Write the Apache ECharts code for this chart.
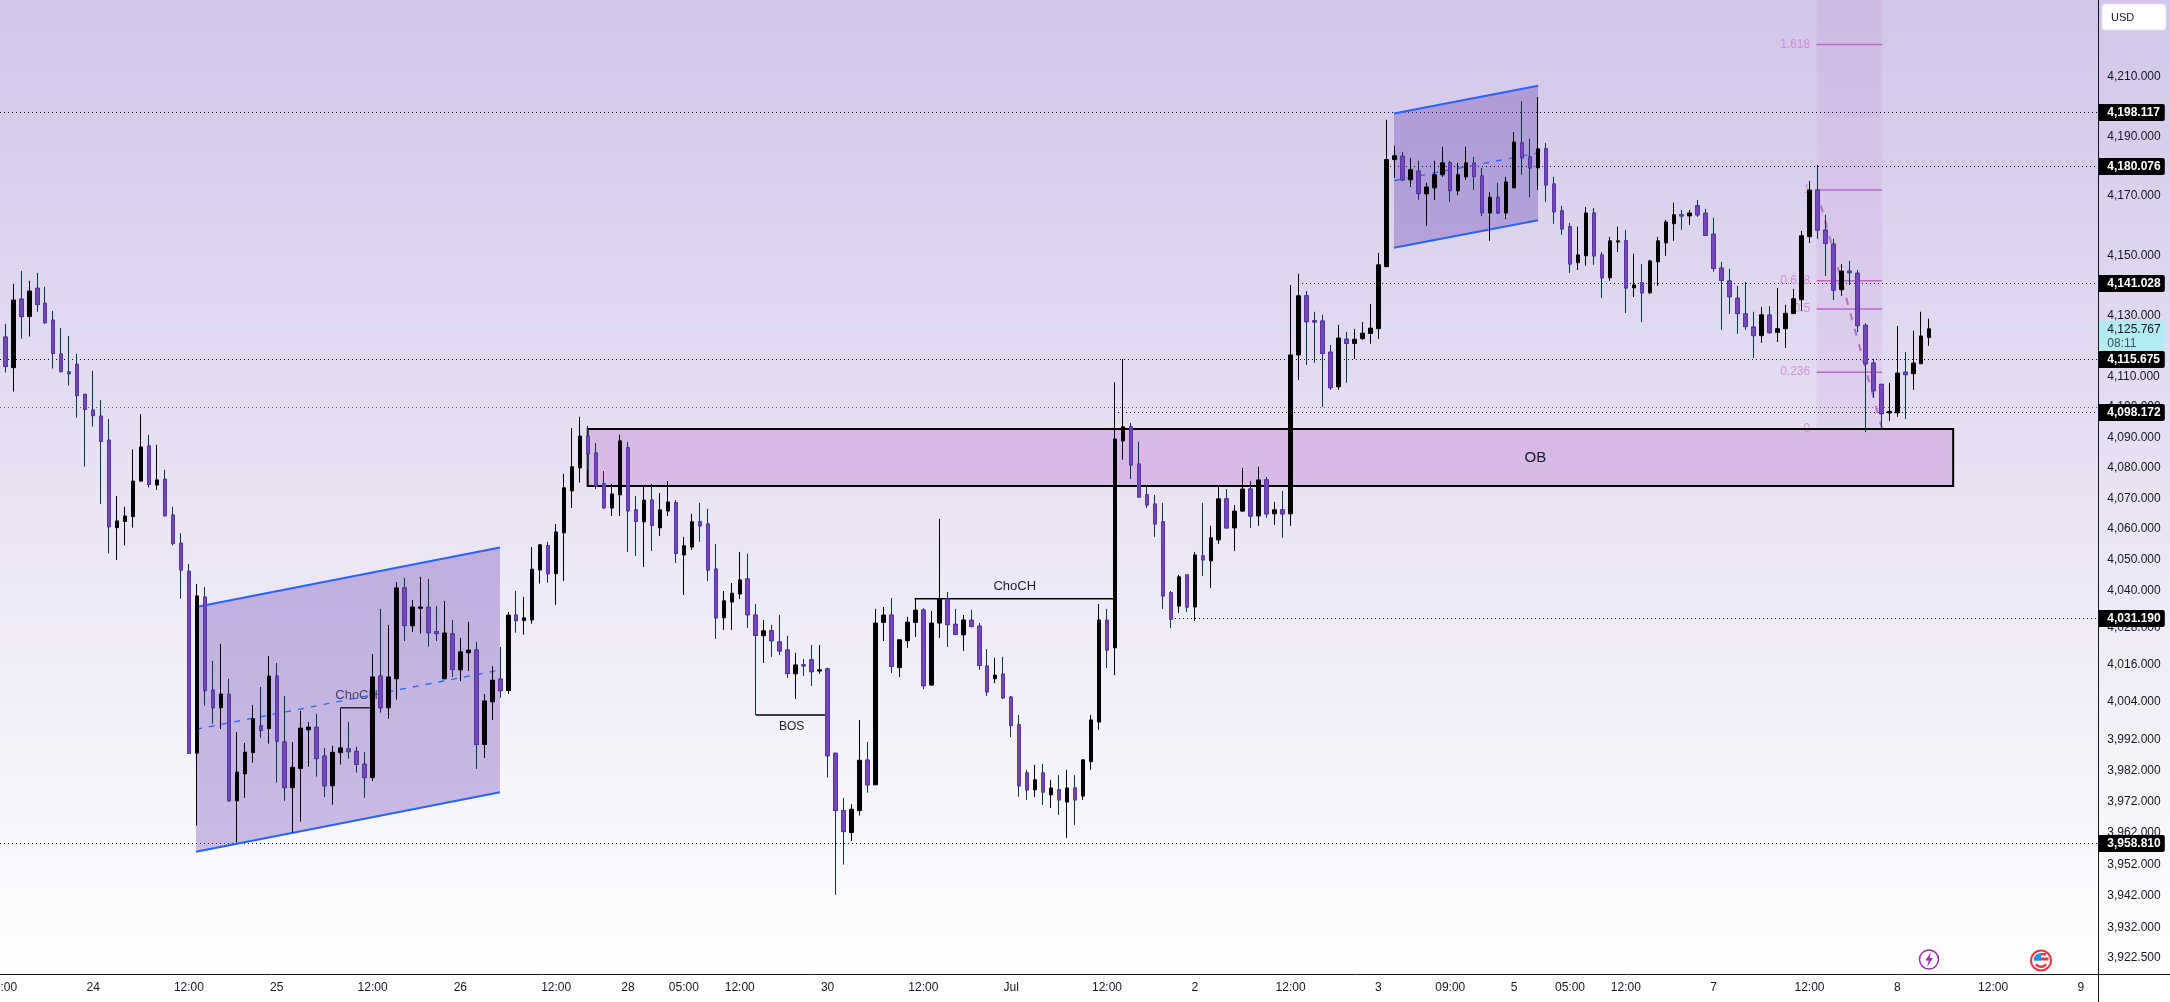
<!DOCTYPE html>
<html>
<head>
<meta charset="utf-8">
<title>XAU/USD 1H</title>
<style>html,body{margin:0;padding:0;background:#fff}#chart{width:2170px;height:1002px}</style>
<script src="https://cdn.jsdelivr.net/npm/echarts@6/dist/echarts.min.js"></script>
</head>
<body>
<div id="chart"></div>
<script>
// Hourly candles: one value per bar, newest last.
const opens = [
4123.0,4112.9,4135.6,4129.8,4139.2,4134.2,4128.6,4117.4,4111.5,4114.0,
4104.1,4098.9,4096.9,4089.0,4060.4,4062.4,4064.0,4075.6,4087.1,4074.3,
4076.2,4064.5,4055.3,4046.2,3987.5,4037.8,4007.8,4002.1,4006.4,3972.3,
3980.9,3987.7,3996.3,3995.4,4012.3,3991.1,3976.5,3982.6,3995.0,3995.8,
3986.6,3977.1,3987.7,3988.9,3988.1,3984.0,3979.7,4012.3,4002.1,4011.4,
4040.8,4028.5,4034.2,4034.5,4026.6,4011.4,4025.9,4014.3,4019.8,4020.7,
3990.3,4004.0,4011.3,4007.6,4032.0,4030.2,4030.4,4046.6,4054.5,4045.4,
4058.7,4072.4,4079.9,4090.4,4084.8,4074.7,4066.8,4071.1,4086.5,4066.2,
4062.3,4069.4,4060.3,4065.8,4068.5,4051.5,4054.1,4062.3,4061.6,4046.9,
4031.1,4036.2,4038.8,4043.7,4032.0,4025.3,4026.9,4023.3,4020.7,4013.0,
4015.9,4017.5,4013.9,4014.6,3987.5,3969.2,3962.2,3969.2,3985.3,3977.4,
4029.6,4032.0,4015.0,4023.7,4029.6,4033.6,4009.4,4029.4,4037.2,4029.0,
4025.6,4030.3,4028.4,4015.5,4011.4,4012.9,4005.5,3996.6,3981.2,3975.8,
3981.2,3974.2,3975.8,3971.9,3976.4,3973.8,3984.8,3997.5,4030.3,4021.4,
4088.8,4093.4,4081.2,4071.1,4068.1,4062.3,4039.2,4034.9,4045.0,4034.6,
4051.2,4049.6,4056.4,4069.8,4060.3,4065.8,4073.0,4064.2,4076.0,4064.9,
4066.2,4064.9,4117.1,4136.7,4128.4,4128.3,4118.0,4106.6,4122.3,4120.9,
4122.5,4124.2,4125.8,4146.4,4182.2,4183.3,4175.4,4178.3,4170.7,4172.7,
4177.1,4181.1,4171.7,4176.4,4181.0,4176.7,4164.3,4169.6,4164.3,4172.7,
4187.8,4183.1,4179.4,4185.8,4174.0,4165.0,4159.7,4147.7,4150.0,4164.3,
4150.3,4142.7,4154.6,4155.0,4139.3,4141.0,4137.7,4148.0,4154.3,4160.7,
4163.7,4163.3,4166.7,4164.2,4157.2,4145.9,4141.6,4135.9,4130.7,4126.3,
4123.5,4130.3,4124.5,4125.8,4130.8,4135.4,4156.4,4172.0,4158.6,4153.9,
4138.7,4144.9,4144.2,4126.9,4114.4,4107.4,4098.0,4098.0,4111.4,4110.9,
4114.2,4122.9];
const closes = [
4113.3,4135.3,4129.8,4138.3,4133.8,4127.8,4117.6,4111.6,4110.9,4103.7,
4099.1,4097.1,4088.6,4060.7,4062.6,4064.2,4075.6,4086.8,4074.5,4076.0,
4064.3,4055.2,4046.6,3987.5,4038.2,4007.6,4002.1,4006.5,3972.3,3981.5,
3987.9,3998.6,3994.8,4012.3,3991.4,3976.5,3983.0,3995.6,3995.9,3985.8,
3977.1,3987.8,3989.2,3988.0,3983.9,3979.7,4012.0,4002.1,4012.0,4040.8,
4028.6,4034.6,4034.6,4026.3,4026.0,4026.2,4014.4,4020.1,4020.7,3990.3,
4004.3,4011.0,4007.6,4032.0,4030.2,4031.1,4046.9,4054.8,4045.4,4059.0,
4073.4,4080.3,4090.4,4084.6,4074.0,4066.9,4071.4,4088.8,4065.9,4062.4,
4069.4,4061.1,4066.2,4068.8,4052.0,4054.5,4062.3,4061.0,4046.6,4031.1,
4036.6,4039.1,4043.4,4032.1,4025.4,4026.9,4023.7,4020.4,4013.1,4015.9,
4015.6,4013.7,4014.3,3986.7,3969.2,3962.5,3969.6,3985.3,3977.4,4029.4,
4032.0,4015.4,4024.0,4029.7,4033.6,4009.2,4029.4,4037.2,4028.9,4025.7,
4030.4,4028.3,4015.7,4007.2,4012.6,4005.3,3996.4,3977.1,3975.8,3979.0,
3975.1,3976.4,3972.6,3976.4,3972.6,3985.4,3998.2,4030.4,4020.7,4089.4,
4093.4,4080.9,4070.4,4067.8,4061.6,4038.2,4030.7,4044.4,4034.6,4051.5,
4049.9,4057.1,4069.8,4060.3,4065.8,4073.0,4064.2,4076.0,4064.9,4066.2,
4064.9,4117.1,4136.7,4128.1,4128.0,4117.6,4106.3,4122.7,4120.9,4122.3,
4124.3,4126.0,4147.0,4182.2,4183.5,4175.4,4178.8,4170.8,4173.0,4177.1,
4181.1,4171.8,4177.1,4181.1,4176.5,4164.4,4169.6,4164.3,4174.7,4188.1,
4182.8,4179.4,4185.8,4173.7,4164.7,4159.0,4147.3,4150.3,4164.3,4150.0,
4142.7,4155.0,4155.0,4139.3,4140.3,4137.7,4148.3,4155.0,4161.3,4163.7,
4163.3,4164.3,4163.7,4156.8,4145.8,4141.8,4136.4,4130.8,4126.5,4123.5,
4130.4,4124.5,4125.8,4130.9,4135.7,4156.7,4172.0,4158.6,4154.1,4138.6,
4144.9,4144.4,4126.8,4114.2,4105.3,4097.7,4098.5,4111.1,4110.6,4114.4,
4123.4,4125.767];
const highs = [
4127.4,4140.7,4145.0,4141.7,4144.3,4139.7,4131.7,4126.0,4123.4,4117.5,
4104.1,4111.9,4102.2,4096.0,4070.7,4067.2,4086.0,4097.6,4090.8,4087.5,
4079.3,4067.2,4058.6,4048.6,4042.1,4041.1,4017.2,4022.7,4011.4,3994.3,
3990.8,4003.0,4008.8,4018.8,4016.5,4005.9,3991.1,4001.1,3997.5,4000.1,
3989.2,3989.9,4002.1,3997.5,3989.6,3987.9,4019.4,4034.0,4028.8,4042.7,
4044.0,4036.9,4044.4,4043.7,4034.9,4036.6,4030.4,4024.6,4029.8,4023.3,
4006.5,4015.5,4021.7,4033.0,4039.8,4037.9,4054.1,4055.0,4055.8,4061.6,
4078.0,4093.0,4096.7,4093.7,4088.1,4078.9,4074.7,4090.8,4088.5,4070.7,
4074.0,4074.7,4071.7,4075.6,4069.4,4057.4,4064.9,4068.5,4066.5,4055.1,
4039.8,4042.4,4052.5,4051.9,4035.6,4030.4,4028.8,4032.0,4025.3,4019.8,
4017.8,4022.3,4022.3,4015.0,3987.6,3973.2,3971.2,3998.2,3991.1,4034.0,
4034.6,4037.5,4024.0,4031.4,4037.2,4034.2,4033.3,4063.2,4039.5,4034.0,
4032.0,4033.7,4029.4,4021.0,4018.2,4018.5,4005.9,3999.8,3982.2,3983.8,
3984.1,3979.0,3980.5,3982.2,3980.5,3985.4,3999.8,4035.6,4034.0,4108.1,
4115.8,4094.7,4088.5,4074.0,4071.1,4068.5,4039.8,4045.0,4045.0,4052.5,
4068.5,4061.0,4074.0,4073.0,4067.8,4079.9,4075.6,4080.3,4076.9,4068.8,
4072.4,4140.3,4144.0,4138.3,4131.4,4130.4,4120.4,4127.1,4124.7,4125.7,
4128.0,4134.0,4151.0,4195.6,4186.8,4184.8,4182.8,4181.8,4174.4,4181.8,
4186.5,4181.8,4181.1,4186.5,4183.1,4179.4,4171.3,4174.4,4176.4,4191.5,
4201.9,4189.2,4203.3,4187.8,4176.4,4166.7,4161.0,4159.7,4166.3,4166.0,
4151.3,4156.3,4159.7,4158.7,4150.7,4147.3,4148.7,4156.3,4162.0,4167.7,
4165.3,4165.3,4168.7,4165.7,4162.7,4148.0,4145.7,4140.0,4141.3,4131.4,
4133.0,4133.3,4139.3,4133.7,4139.0,4158.3,4175.0,4180.4,4163.7,4155.7,
4147.3,4148.3,4145.3,4127.6,4115.8,4107.5,4107.9,4126.7,4118.1,4125.1,
4131.4,4129.1];
const lows = [
4111.3,4105.0,4122.5,4123.2,4131.4,4127.4,4112.6,4111.3,4107.0,4096.4,
4080.4,4093.5,4068.1,4052.0,4049.9,4054.6,4060.4,4075.4,4073.5,4072.7,
4064.0,4054.6,4037.3,3987.5,3964.4,4002.8,3997.0,3995.3,3972.3,3959.0,
3973.3,3984.5,3992.4,3990.6,3978.1,3972.3,3962.2,3965.7,3983.2,3980.0,
3973.5,3971.1,3983.9,3985.8,3981.3,3973.3,3978.6,4000.5,3998.6,4004.7,
4023.6,4026.5,4026.0,4021.8,4023.6,4011.4,4012.0,4010.7,4013.9,3982.5,
3986.0,3998.2,4005.3,4006.5,4026.3,4025.7,4029.2,4042.2,4042.5,4035.3,
4043.0,4066.8,4075.1,4079.3,4073.0,4066.5,4064.2,4064.2,4052.5,4051.2,
4047.6,4052.8,4057.7,4064.2,4048.9,4038.5,4053.2,4055.8,4043.0,4024.3,
4027.2,4027.2,4037.2,4027.8,3999.8,4016.5,4018.5,4019.1,4011.7,4004.9,
4012.3,4009.1,4013.0,3979.7,3942.4,3952.0,3959.5,3967.6,3974.9,3977.4,
4023.6,4013.3,4012.0,4021.4,4024.9,4008.1,4009.1,4024.6,4021.7,4025.7,
4020.4,4028.0,4014.3,4005.9,4010.0,4004.9,3992.7,3973.6,3972.6,3973.5,
3971.0,3970.0,3967.8,3960.5,3964.6,3972.6,3982.2,3995.0,4014.9,4012.6,
4082.6,4076.3,4070.1,4066.8,4057.4,4034.0,4027.8,4032.7,4033.0,4030.1,
4044.7,4040.8,4055.1,4060.3,4052.8,4065.5,4060.3,4061.0,4063.6,4061.3,
4057.1,4061.0,4108.8,4113.8,4114.5,4100.0,4105.6,4105.6,4107.9,4115.8,
4122.1,4120.8,4122.4,4146.3,4176.1,4175.0,4173.0,4168.7,4160.0,4168.7,
4176.4,4168.0,4170.3,4175.4,4172.0,4163.3,4155.0,4164.0,4162.3,4172.7,
4177.1,4169.6,4172.0,4168.0,4160.7,4157.0,4144.3,4145.3,4146.7,4147.0,
4136.0,4141.7,4151.3,4131.0,4136.3,4128.0,4137.3,4140.0,4150.0,4155.0,
4158.7,4160.3,4163.0,4156.8,4144.7,4125.4,4130.7,4124.1,4125.4,4116.1,
4121.1,4124.1,4121.4,4119.4,4130.7,4131.7,4154.3,4155.7,4143.3,4135.3,
4136.7,4140.3,4124.7,4091.7,4102.9,4093.2,4095.3,4096.7,4096.0,4105.6,
4114.1,4120.1];

// Price scale ticks.
const priceTicks = [4210,4190,4170,4150,4130,4110,4100,4090,4080,4070,4060,4050,4040,4028,4016,4004,3992,3982,3972,3962,3952,3942,3932,3922.5];
// Time scale ticks: bar position and caption.
const timeTickBars = [-0.4,11,23,34,46,57,69,78,85,92,103,115,126,138,149,161,172,181,189,196,203,214,226,237,249,260];
const timeTickLabels = ['12:00','24','12:00','25','12:00','26','12:00','28','05:00','12:00','30','12:00','Jul','12:00','2','12:00','3','09:00','5','05:00','12:00','7','12:00','8','12:00','9'];

// Axis window.
const priceMin = 3917.44, priceMax = 4236.14;
const barMin = -1.7, barMax = 262.18;

// Horizontal levels: price and first bar of the dotted line.
const levelPrices = [4198.117,4180.076,4141.028,4115.675,4098.172,4031.19,3958.81];
const levelStartBars = [-1.7,173.4,162.4,-1.7,139.4,146.5,-1.7];
const roundLevel = 4100;
const lastPrice = 4125.767;
const lastPriceCountdown = '08:11';

// Parallel channels as [bar, price] corners: top-left, top-right, bottom-right, bottom-left.
const channelEarly = [[23.88,4034.6],[61.96,4053.9],[61.96,3975.0],[23.88,3956.1]];
const channelLate = [[173.95,4197.7],[192.0,4207.1],[192.0,4161.9],[173.95,4152.7]];

// Order block zone.
const orderBlockBars = [72.95,244.0];
const orderBlockPrices = [4092.7,4074.0];

// Fibonacci retracement of the final swing.
const fibBars = [226.9,235.1];
const fibRatios = [0,0.236,0.5,0.618,1,1.618];
const fibLabels = ['0','0.236','0.5','0.618','1','1.618'];
const fibLow = 4092.7, fibHigh = 4172.0;

// Structure notes: line ends in [bar, price] and the caption.
const bosLine = [[94,3999.8],[103,3999.8]];
const chochLine = [[113.9,4037.3],[139,4037.3]];
const chochInnerLine = [[42,4002.1],[46,4002.1]];

const font = '"Liberation Sans", Arial, sans-serif';
const INK = '#131722';
const BLUE = '#2962ff';
const FIB = '#ba68c8';

const barIndex = opens.map((_, i) => i);
const candleRows = barIndex.map(i => [i, opens[i], closes[i], lows[i], highs[i]]);
// Falling candles get a second pass without wicks so that body outline and wick differ in colour.
const fallingBodies = barIndex.filter(i => closes[i] < opens[i])
  .map(i => [i, opens[i], closes[i], closes[i], opens[i]]);

const lineEl = (a, b, style) => ({ type: 'line', shape: { x1: a[0], y1: a[1], x2: b[0], y2: b[1] }, style, silent: true });
const textEl = (text, x, y, fill, size, align, weight) => ({
  type: 'text', silent: true,
  style: { text, x, y, fill, font: `${weight || 'normal'} ${size}px ${font}`, align: align || 'center', verticalAlign: 'middle' }
});

function channelChildren(api, corners) {
  const p = corners.map(c => api.coord(c));
  const midL = [p[0][0], (p[0][1] + p[3][1]) / 2], midR = [p[1][0], (p[1][1] + p[2][1]) / 2];
  return [
    { type: 'polygon', shape: { points: p }, style: { fill: 'rgba(90,45,171,0.3)' }, silent: true },
    lineEl(p[0], p[1], { stroke: BLUE, lineWidth: 2 }),
    lineEl(p[3], p[2], { stroke: BLUE, lineWidth: 2 }),
    lineEl(midL, midR, { stroke: BLUE, lineWidth: 1.3, lineDash: [6, 7] })
  ];
}

// Dots land on whole pixels so they stay crisp.
function levelLine(api, bar, price, style) {
  const a = api.coord([bar, price]), b = api.coord([barMax, price]);
  const y = Math.round(a[1]) + 0.5;
  return lineEl([Math.round(a[0]), y], [Math.round(b[0]), y], style);
}

// Drawings that sit underneath the candles.
function renderDrawings(params, api) {
  const children = [];
  children.push(levelLine(api, barMin, roundLevel, { stroke: '#555', lineWidth: 1, lineDash: [1, 3] }));
  levelPrices.forEach((p, k) => children.push(levelLine(api, levelStartBars[k], p, { stroke: '#000', lineWidth: 1, lineDash: [1, 3] })));
  children.push(levelLine(api, barMin, lastPrice, { stroke: '#b2ebf2', lineWidth: 1, lineDash: [1, 3] }));

  // Fibonacci box, levels and captions.
  const fibPrice = r => fibLow + r * (fibHigh - fibLow);
  const tl = api.coord([fibBars[0], priceMax]), br = api.coord([fibBars[1], fibLow]);
  children.push({ type: 'rect', shape: { x: tl[0], y: tl[1], width: br[0] - tl[0], height: br[1] - tl[1] }, style: { fill: 'rgba(186,104,200,0.11)' }, silent: true });
  fibRatios.forEach((r, k) => {
    const a = api.coord([fibBars[0], fibPrice(r)]), b = api.coord([fibBars[1], fibPrice(r)]);
    children.push(lineEl(a, b, { stroke: FIB, lineWidth: 1.5 }));
    children.push(textEl(fibLabels[k], a[0] - 6.5, a[1], '#cf8fdc', 12, 'right'));
  });
  children.push(lineEl(api.coord([fibBars[0], fibHigh]), api.coord([fibBars[1], fibLow]), { stroke: FIB, lineWidth: 2, lineDash: [7, 9] }));

  children.push(...channelChildren(api, channelEarly));
  children.push(...channelChildren(api, channelLate));

  // Order block.
  const ob0 = api.coord([orderBlockBars[0], orderBlockPrices[0]]), ob1 = api.coord([orderBlockBars[1], orderBlockPrices[1]]);
  children.push({ type: 'rect', shape: { x: ob0[0], y: ob0[1], width: ob1[0] - ob0[0], height: ob1[1] - ob0[1] }, style: { fill: 'rgba(190,130,210,0.4)', stroke: '#000', lineWidth: 2 }, silent: true });
  children.push(textEl('OB', ob0[0] + (ob1[0] - ob0[0]) * 0.694, (ob0[1] + ob1[1]) / 2, '#131722', 15));

  // BOS / ChoCH notes.
  const note = '#1f1f2a';
  const bos = bosLine.map(c => api.coord(c));
  children.push(lineEl(bos[0], bos[1], { stroke: '#000', lineWidth: 1.5 }));
  children.push(textEl('BOS', (bos[0][0] + bos[1][0]) / 2, bos[0][1] + 12, note, 12));
  const ch = chochLine.map(c => api.coord(c));
  children.push(lineEl(ch[0], ch[1], { stroke: '#000', lineWidth: 1.5 }));
  children.push(textEl('ChoCH', (ch[0][0] + ch[1][0]) / 2, ch[0][1] - 12.5, note, 13));
  const ci = chochInnerLine.map(c => api.coord(c));
  children.push(lineEl(ci[0], ci[1], { stroke: '#2a2238', lineWidth: 1.5 }));
  children.push(textEl('ChoCH', (ci[0][0] + ci[1][0]) / 2, ci[0][1] - 12, '#4a3f5f', 13));

  return { type: 'group', children };
}

// Price tags in the right-hand scale.
function renderTags(params, api) {
  const x = api.coord([barMax, priceMin])[0] + 0.5;
  const children = [];
  const last = api.coord([barMax, lastPrice])[1];
  children.push({ type: 'rect', shape: { x, y: last - 8, width: 66, height: 31 }, style: { fill: '#b2ebf2' }, silent: true });
  children.push(textEl('4,125.767', x + 8.5, last + 0.5, '#131722', 12, 'left'));
  children.push(textEl(lastPriceCountdown, x + 8.5, last + 14.5, '#40525a', 12, 'left'));
  levelPrices.forEach(p => {
    const y = api.coord([barMax, p])[1];
    children.push({ type: 'rect', shape: { x, y: Math.round(y) - 8, width: 66, height: 17, r: [0, 2, 2, 0] }, style: { fill: '#000' }, silent: true });
    children.push(textEl(p.toLocaleString('en-US', { minimumFractionDigits: 3, maximumFractionDigits: 3 }), x + 8.5, Math.round(y) + 0.5, '#fff', 12, 'left', 'bold'));
  });
  return { type: 'group', children };
}

const chart = echarts.init(document.getElementById('chart'), null, { renderer: 'canvas' });
chart.setOption({
  animation: false,
  backgroundColor: {
    type: 'linear', x: 0, y: 0, x2: 0, y2: 1,
    colorStops: [{ offset: 0, color: '#d2c6e8' }, { offset: 0.972, color: '#ffffff' }, { offset: 1, color: '#ffffff' }]
  },
  textStyle: { fontFamily: font },
  grid: { left: -8.24, top: 0, width: 2106.54, height: 974, containLabel: false, outerBoundsMode: 'none' },
  xAxis: {
    type: 'value', min: barMin, max: barMax, splitLine: { show: false },
    axisLine: { show: false }, axisTick: { show: false },
    axisLabel: {
      customValues: timeTickBars, margin: 8, color: INK, fontSize: 12, fontFamily: font, hideOverlap: false,
      formatter: v => timeTickLabels[timeTickBars.indexOf(v)] || ''
    }
  },
  yAxis: {
    type: 'log', position: 'right', min: priceMin, max: priceMax, splitLine: { show: false },
    axisLine: { show: false }, axisTick: { show: false }, minorTick: { show: false }, minorSplitLine: { show: false },
    axisLabel: {
      customValues: priceTicks, margin: 9, color: INK, fontSize: 12, fontFamily: font, hideOverlap: false,
      formatter: v => Number(v).toLocaleString('en-US', { minimumFractionDigits: 3, maximumFractionDigits: 3 })
    }
  },
  series: [
    { type: 'custom', name: 'Drawings', z: 1, clip: false, silent: true, data: [[0, lastPrice]], encode: { x: 0, y: 1 }, renderItem: renderDrawings },
    {
      type: 'candlestick', name: 'XAU/USD', z: 3, barWidth: 4, silent: true, data: candleRows,
      encode: { x: 0, y: [1, 2, 3, 4] },
      itemStyle: { color: '#000000', color0: '#7048b8', borderColor: '#000000', borderColor0: '#003a3a', borderWidth: 1 }
    },
    {
      type: 'candlestick', name: 'Falling bodies', z: 4, barWidth: 4, silent: true, data: fallingBodies,
      encode: { x: 0, y: [1, 2, 3, 4] },
      itemStyle: { color: '#7048b8', color0: '#7048b8', borderColor: '#5a35a8', borderColor0: '#5a35a8', borderWidth: 1 }
    },
    { type: 'custom', name: 'Price tags', z: 6, clip: false, silent: true, data: [[0, lastPrice]], encode: { x: 0, y: 1 }, renderItem: renderTags }
  ],
  graphic: [
    { type: 'line', z: 7, shape: { x1: 0, y1: 974.5, x2: 2170, y2: 974.5 }, style: { stroke: INK, lineWidth: 1 }, silent: true },
    { type: 'line', z: 7, shape: { x1: 2098.5, y1: 0, x2: 2098.5, y2: 1002 }, style: { stroke: INK, lineWidth: 1 }, silent: true },
    { type: 'rect', z: 7, shape: { x: 2102, y: 4, width: 64, height: 26, r: 3 }, style: { fill: '#fff', stroke: '#e6dff2', lineWidth: 1 }, silent: true },
    { type: 'text', z: 8, style: { text: 'USD', x: 2111, y: 17.5, fill: INK, font: `11px ${font}`, align: 'left', verticalAlign: 'middle' }, silent: true },
    // Session event marker.
    { type: 'circle', z: 7, shape: { cx: 1929, cy: 959.5, r: 9.5 }, style: { fill: '#fff', stroke: '#9c27b0', lineWidth: 1.5 }, silent: true },
    { type: 'polygon', z: 8, shape: { points: [[1931, 952], [1925.5, 960.5], [1928.8, 960.5], [1927, 967], [1932.8, 958], [1929.5, 958]] }, style: { fill: '#9c27b0' }, silent: true },
    // US economic event marker.
    { type: 'circle', z: 7, shape: { cx: 2041, cy: 960.5, r: 10 }, style: { fill: '#fff', stroke: '#f23645', lineWidth: 2 }, silent: true },
    { type: 'sector', z: 8, shape: { cx: 2041, cy: 960.5, r0: 0, r: 7.5, startAngle: Math.PI, endAngle: Math.PI * 1.5 }, style: { fill: '#2e8be8' }, silent: true },
    { type: 'rect', z: 8, shape: { x: 2034, y: 957, width: 7, height: 3.5 }, style: { fill: '#2e8be8' }, silent: true },
    { type: 'rect', z: 8, shape: { x: 2041, y: 953, width: 5, height: 2.5 }, style: { fill: '#f23645' }, silent: true },
    { type: 'rect', z: 8, shape: { x: 2041, y: 957.5, width: 7.5, height: 3 }, style: { fill: '#f23645' }, silent: true },
    { type: 'sector', z: 8, shape: { cx: 2041, cy: 960.5, r0: 5, r: 7.5, startAngle: Math.PI * 0.2, endAngle: Math.PI * 0.8 }, style: { fill: '#f23645' }, silent: true }
  ]
});
</script>
</body>
</html>
